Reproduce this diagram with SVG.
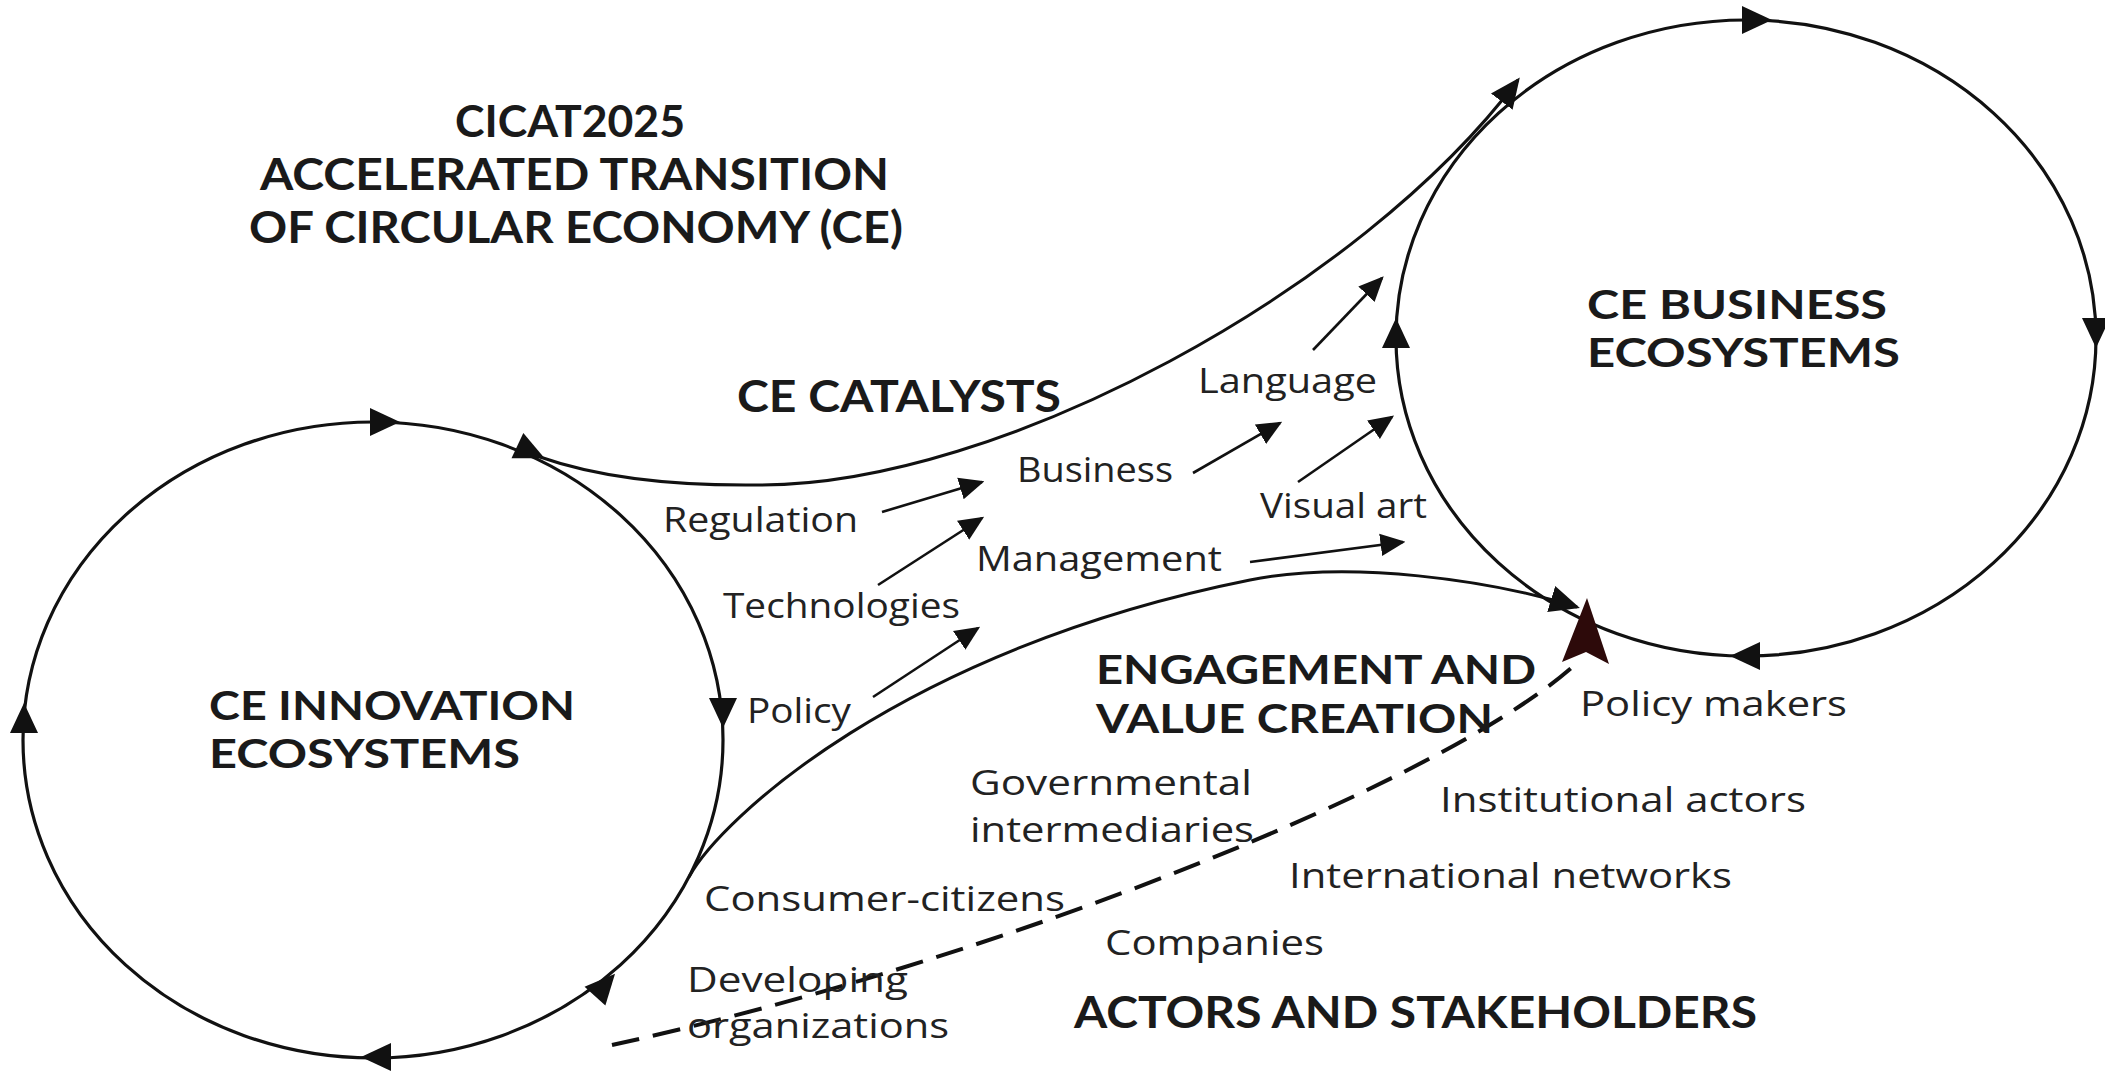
<svg xmlns="http://www.w3.org/2000/svg" width="2105" height="1074" viewBox="0 0 2105 1074">
<style>
.ring{fill:none;stroke:#111;stroke-width:3.2}
.conn{fill:none;stroke:#111;stroke-width:3}
.cat{fill:none;stroke:#111;stroke-width:2.6}
.dash{fill:none;stroke:#111;stroke-width:4;stroke-dasharray:28 14}
.head{fill:#111}
.h{font-family:Lato,"Open Sans","DejaVu Sans",sans-serif;font-weight:700;fill:#1a1a1a}
.l{font-family:"Open Sans",Lato,"DejaVu Sans",sans-serif;font-weight:400;fill:#222;font-size:35px}
</style>
<defs>
<marker id="ah" viewBox="0 0 10 10" refX="9" refY="5" markerWidth="30" markerHeight="30" markerUnits="userSpaceOnUse" orient="auto"><path d="M0,0.5 L10,5 L0,9.5 z" fill="#111"/></marker>
<marker id="ahs" viewBox="0 0 10 10" refX="9" refY="5" markerWidth="25" markerHeight="25" markerUnits="userSpaceOnUse" orient="auto"><path d="M0,0.5 L10,5 L0,9.5 z" fill="#111"/></marker>
<path id="tri" d="M15,0 L-15,-14 L-15,14 Z"/>
</defs>

<g id="title">
<text class="h" x="455" y="137" font-size="44" textLength="230" lengthAdjust="spacingAndGlyphs">CICAT2025</text>
<text class="h" x="260" y="190" font-size="44" textLength="629" lengthAdjust="spacingAndGlyphs">ACCELERATED TRANSITION</text>
<text class="h" x="249" y="243" font-size="44" textLength="654" lengthAdjust="spacingAndGlyphs">OF CIRCULAR ECONOMY (CE)</text>
</g>

<g id="node-innovation">
<ellipse class="ring" cx="373" cy="740" rx="350" ry="318"/>
<use href="#tri" class="head" transform="translate(385,422) rotate(0)"/>
<use href="#tri" class="head" transform="translate(531,452) rotate(25)"/>
<use href="#tri" class="head" transform="translate(723,713) rotate(90)"/>
<use href="#tri" class="head" transform="translate(376,1057) rotate(180)"/>
<use href="#tri" class="head" transform="translate(24,718) rotate(-90)"/>
<text class="h" x="209" y="720" font-size="40" textLength="366" lengthAdjust="spacingAndGlyphs">CE INNOVATION</text>
<text class="h" x="209" y="768" font-size="40" textLength="311" lengthAdjust="spacingAndGlyphs">ECOSYSTEMS</text>
</g>

<g id="node-business">
<ellipse class="ring" cx="1746" cy="338" rx="350" ry="318"/>
<use href="#tri" class="head" transform="translate(1757,20) rotate(0)"/>
<use href="#tri" class="head" transform="translate(2096,333) rotate(90)"/>
<use href="#tri" class="head" transform="translate(1745,656) rotate(180)"/>
<use href="#tri" class="head" transform="translate(1396,333) rotate(-90)"/>
<text class="h" x="1587" y="319" font-size="40" textLength="300" lengthAdjust="spacingAndGlyphs">CE BUSINESS</text>
<text class="h" x="1587" y="367" font-size="40" textLength="313" lengthAdjust="spacingAndGlyphs">ECOSYSTEMS</text>
</g>

<g id="connectors">
<path class="conn" d="M540,457 C600,478 680,486 760,485 C1000,485 1360,290 1518,80" marker-end="url(#ah)"/>
<path class="conn" d="M689,877 C720,820 900,650 1250,580 C1350,560 1490,580 1577,607" marker-end="url(#ah)"/>
<use href="#tri" class="head" transform="translate(605,985) rotate(-48)"/>
<path class="dash" d="M612,1045 C1000,960 1450,780 1578,662"/>
<path d="M1587,598 L1609,664 L1586,652 L1562,662 Z" fill="#2d0a0a"/>
<path class="cat" d="M882,512 L982,482" marker-end="url(#ahs)"/>
<path class="cat" d="M878,585 L982,518" marker-end="url(#ahs)"/>
<path class="cat" d="M873,697 L978,628" marker-end="url(#ahs)"/>
<path class="cat" d="M1193,473 L1280,423" marker-end="url(#ahs)"/>
<path class="cat" d="M1313,350 L1382,278" marker-end="url(#ahs)"/>
<path class="cat" d="M1298,482 L1392,417" marker-end="url(#ahs)"/>
<path class="cat" d="M1250,562 L1403,542" marker-end="url(#ahs)"/>
</g>

<g id="catalysts">
<text class="h" x="737" y="412" font-size="44" textLength="324" lengthAdjust="spacingAndGlyphs">CE CATALYSTS</text>
<text class="l" x="663" y="532" textLength="195" lengthAdjust="spacingAndGlyphs">Regulation</text>
<text class="l" x="723" y="618" textLength="237" lengthAdjust="spacingAndGlyphs">Technologies</text>
<text class="l" x="747" y="723" textLength="104" lengthAdjust="spacingAndGlyphs">Policy</text>
<text class="l" x="1017" y="482" textLength="156" lengthAdjust="spacingAndGlyphs">Business</text>
<text class="l" x="976" y="571" textLength="246" lengthAdjust="spacingAndGlyphs">Management</text>
<text class="l" x="1198" y="393" textLength="179" lengthAdjust="spacingAndGlyphs">Language</text>
<text class="l" x="1260" y="518" textLength="167" lengthAdjust="spacingAndGlyphs">Visual art</text>
</g>

<g id="engagement">
<text class="h" x="1096" y="684" font-size="40" textLength="440" lengthAdjust="spacingAndGlyphs">ENGAGEMENT AND</text>
<text class="h" x="1096" y="733" font-size="40" textLength="397" lengthAdjust="spacingAndGlyphs">VALUE CREATION</text>
</g>

<g id="actors">
<text class="l" x="1580" y="716" textLength="267" lengthAdjust="spacingAndGlyphs">Policy makers</text>
<text class="l" x="970" y="795" textLength="282" lengthAdjust="spacingAndGlyphs">Governmental</text>
<text class="l" x="970" y="842" textLength="284" lengthAdjust="spacingAndGlyphs">intermediaries</text>
<text class="l" x="1440" y="812" textLength="366" lengthAdjust="spacingAndGlyphs">Institutional actors</text>
<text class="l" x="1289" y="888" textLength="443" lengthAdjust="spacingAndGlyphs">International networks</text>
<text class="l" x="704" y="911" textLength="361" lengthAdjust="spacingAndGlyphs">Consumer-citizens</text>
<text class="l" x="1105" y="955" textLength="219" lengthAdjust="spacingAndGlyphs">Companies</text>
<text class="l" x="687" y="992" textLength="221" lengthAdjust="spacingAndGlyphs">Developing</text>
<text class="l" x="687" y="1038" textLength="262" lengthAdjust="spacingAndGlyphs">organizations</text>
<text class="h" x="1074" y="1028" font-size="43" textLength="683" lengthAdjust="spacingAndGlyphs">ACTORS AND STAKEHOLDERS</text>
</g>
</svg>
